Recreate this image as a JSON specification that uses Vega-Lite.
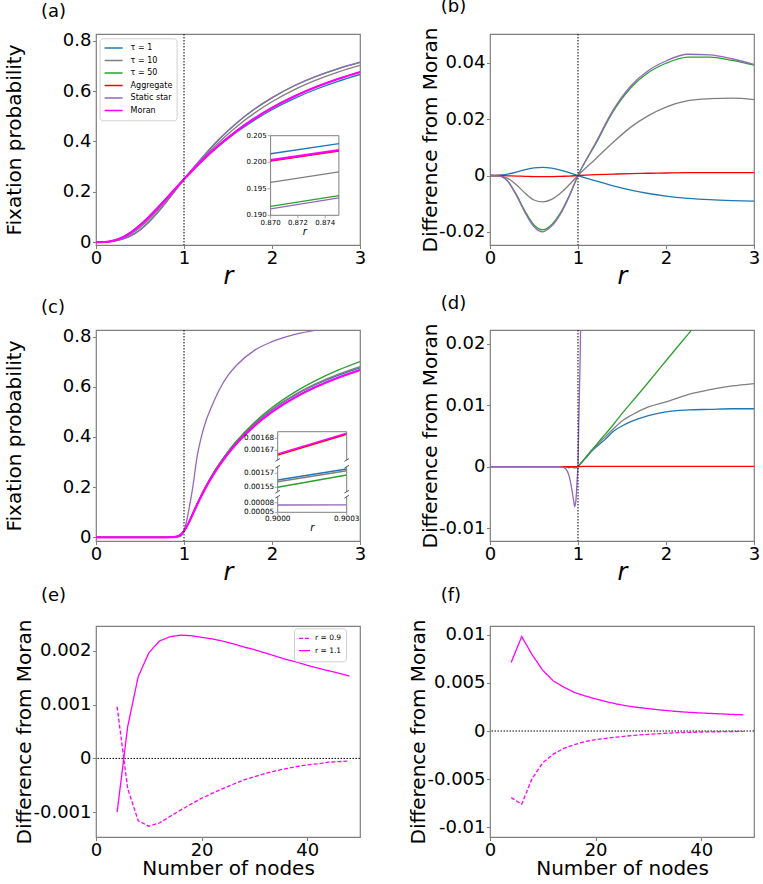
{
"$schema": "https://vega.github.io/schema/vega-lite/v6.json",
"background": "white",
"padding": {"left": 3, "top": -3, "right": 5, "bottom": 5},
"config": {
  "font": "DejaVu Sans",
  "view": {"stroke": "#7f7f7f", "strokeWidth": 1.2},
  "axis": {"grid": false, "domain": false, "domainColor": "#7f7f7f", "tickColor": "#7f7f7f", "tickSize": 3.5, "labelFontSize": 18, "labelColor": "black", "labelPadding": 1.5, "titleFontSize": 20, "titleFontWeight": "normal", "titleColor": "black", "labelFlush": false, "labelOverlap": false, "labelFont": "DejaVu Sans", "titleFont": "DejaVu Sans"},
  "title": {"fontSize": 18, "fontWeight": "normal", "font": "DejaVu Sans", "color": "black"},
  "legend": {"labelFont": "DejaVu Sans"},
  "tick": {"color": "#7f7f7f", "thickness": 1},
  "text": {"font": "DejaVu Sans", "color": "black"}
},
"datasets": {
  "a": [
    {"r":0,"t1":0,"t10":0,"t50":0,"agg":0,"star":0,"moran":0},
    {"r":0.1,"t1":0.001,"t10":0.0008,"t50":0.0008,"agg":0.0009,"star":0.0008,"moran":0.0009},
    {"r":0.2,"t1":0.0069,"t10":0.0054,"t50":0.0045,"agg":0.0063,"star":0.0044,"moran":0.0064},
    {"r":0.3,"t1":0.0203,"t10":0.0158,"t50":0.0123,"agg":0.0189,"star":0.012,"moran":0.0191},
    {"r":0.4,"t1":0.0415,"t10":0.0331,"t50":0.0266,"agg":0.0391,"star":0.0261,"moran":0.0394},
    {"r":0.5,"t1":0.0694,"t10":0.058,"t50":0.0491,"agg":0.0663,"star":0.0485,"moran":0.0667},
    {"r":0.6,"t1":0.1022,"t10":0.0899,"t50":0.08,"agg":0.0989,"star":0.0794,"moran":0.0993},
    {"r":0.7,"t1":0.138,"t10":0.1269,"t50":0.1179,"agg":0.135,"star":0.1174,"moran":0.1354},
    {"r":0.8,"t1":0.1753,"t10":0.1671,"t50":0.1601,"agg":0.1731,"star":0.1597,"moran":0.1734},
    {"r":0.9,"t1":0.213,"t10":0.2087,"t50":0.2048,"agg":0.2118,"star":0.2045,"moran":0.212},
    {"r":1,"t1":0.25,"t10":0.25,"t50":0.25,"agg":0.25,"star":0.25,"moran":0.25},
    {"r":1.2,"t1":0.32,"t10":0.3278,"t50":0.3331,"agg":0.3222,"star":0.3335,"moran":0.3219},
    {"r":1.4,"t1":0.3826,"t10":0.3981,"t50":0.4091,"agg":0.3868,"star":0.4096,"moran":0.3863},
    {"r":1.6,"t1":0.4373,"t10":0.4597,"t50":0.4737,"agg":0.4432,"star":0.4743,"moran":0.4425},
    {"r":1.8,"t1":0.4848,"t10":0.5125,"t50":0.5278,"agg":0.492,"star":0.5285,"moran":0.4912},
    {"r":2,"t1":0.526,"t10":0.5576,"t50":0.5732,"agg":0.5342,"star":0.574,"moran":0.5333},
    {"r":2.25,"t1":0.57,"t10":0.6047,"t50":0.6202,"agg":0.5791,"star":0.6212,"moran":0.5781},
    {"r":2.5,"t1":0.6072,"t10":0.6431,"t50":0.6579,"agg":0.6168,"star":0.6587,"moran":0.6158},
    {"r":2.75,"t1":0.6388,"t10":0.6752,"t50":0.6886,"agg":0.6487,"star":0.6892,"moran":0.6477},
    {"r":3,"t1":0.6659,"t10":0.702,"t50":0.7142,"agg":0.676,"star":0.7145,"moran":0.675}
  ],
  "ai": [
    {"r":0.87,"t1":0.2016,"t10":0.1962,"t50":0.1917,"agg":0.2002,"star":0.1912,"moran":0.2004},
    {"r":0.875,"t1":0.2035,"t10":0.1982,"t50":0.1937,"agg":0.2021,"star":0.1933,"moran":0.2023}
  ],
  "aiy": [{"v":0.19},{"v":0.195},{"v":0.2},{"v":0.205}],
  "aix": [{"v":0.87},{"v":0.872},{"v":0.874}],
  "b": [
    {"r":0,"t1":0,"t10":0,"t50":0,"agg":0,"star":0},
    {"r":0.1,"t1":0.0001,"t10":-0.0001,"t50":-0.0001,"agg":0,"star":-0.0001},
    {"r":0.2,"t1":0.0005,"t10":-0.001,"t50":-0.0019,"agg":-0.0001,"star":-0.002},
    {"r":0.3,"t1":0.0012,"t10":-0.0033,"t50":-0.0068,"agg":-0.0002,"star":-0.0071},
    {"r":0.4,"t1":0.0021,"t10":-0.0063,"t50":-0.0128,"agg":-0.0003,"star":-0.0133},
    {"r":0.5,"t1":0.0027,"t10":-0.0087,"t50":-0.0176,"agg":-0.0004,"star":-0.0182},
    {"r":0.6,"t1":0.0029,"t10":-0.0094,"t50":-0.0193,"agg":-0.0004,"star":-0.02},
    {"r":0.7,"t1":0.0026,"t10":-0.0085,"t50":-0.0175,"agg":-0.0004,"star":-0.018},
    {"r":0.8,"t1":0.0019,"t10":-0.0063,"t50":-0.0133,"agg":-0.0003,"star":-0.0137},
    {"r":0.9,"t1":0.001,"t10":-0.0033,"t50":-0.0072,"agg":-0.0002,"star":-0.0075},
    {"r":1,"t1":0,"t10":0,"t50":0,"agg":0,"star":0},
    {"r":1.2,"t1":-0.0019,"t10":0.0059,"t50":0.0112,"agg":0.0003,"star":0.0116},
    {"r":1.4,"t1":-0.0037,"t10":0.0118,"t50":0.0228,"agg":0.0005,"star":0.0233},
    {"r":1.6,"t1":-0.0052,"t10":0.0172,"t50":0.0312,"agg":0.0007,"star":0.0318},
    {"r":1.8,"t1":-0.0064,"t10":0.0213,"t50":0.0366,"agg":0.0008,"star":0.0373},
    {"r":2,"t1":-0.0073,"t10":0.0243,"t50":0.0399,"agg":0.0009,"star":0.0407},
    {"r":2.25,"t1":-0.0081,"t10":0.0266,"t50":0.0421,"agg":0.001,"star":0.0431},
    {"r":2.5,"t1":-0.0086,"t10":0.0273,"t50":0.0421,"agg":0.001,"star":0.0429},
    {"r":2.75,"t1":-0.0089,"t10":0.0275,"t50":0.0409,"agg":0.001,"star":0.0415},
    {"r":3,"t1":-0.0091,"t10":0.027,"t50":0.0392,"agg":0.001,"star":0.0395}
  ],
  "c": [
    {"r":0,"t1":0,"t10":0,"t50":0,"agg":0,"star":0,"moran":0},
    {"r":0.5,"t1":0,"t10":0,"t50":0,"agg":0,"star":0,"moran":0},
    {"r":0.8,"t1":0.00003,"t10":0.00003,"t50":0.00003,"agg":0.00003,"star":0,"moran":0.00003},
    {"r":0.85,"t1":0.00027,"t10":0.00027,"t50":0.00027,"agg":0.00027,"star":0.00001,"moran":0.00027},
    {"r":0.9,"t1":0.00156,"t10":0.00156,"t50":0.00155,"agg":0.00167,"star":0.00007,"moran":0.00167},
    {"r":0.925,"t1":0.00375,"t10":0.00375,"t50":0.00365,"agg":0.00375,"star":0.00045,"moran":0.00375},
    {"r":0.95,"t1":0.00776,"t10":0.00776,"t50":0.00756,"agg":0.00776,"star":0.00226,"moran":0.00776},
    {"r":0.962,"t1":0.01065,"t10":0.01065,"t50":0.01045,"agg":0.01065,"star":0.00415,"moran":0.01065},
    {"r":0.975,"t1":0.01463,"t10":0.01463,"t50":0.01443,"agg":0.01463,"star":0.00893,"moran":0.01463},
    {"r":0.99,"t1":0.0204,"t10":0.0204,"t50":0.0203,"agg":0.0204,"star":0.0182,"moran":0.0204},
    {"r":1,"t1":0.025,"t10":0.025,"t50":0.025,"agg":0.025,"star":0.0255,"moran":0.025},
    {"r":1.01,"t1":0.0303,"t10":0.0303,"t50":0.0304,"agg":0.0302,"star":0.0382,"moran":0.0302},
    {"r":1.025,"t1":0.0393,"t10":0.0393,"t50":0.0393,"agg":0.0389,"star":0.0569,"moran":0.0389},
    {"r":1.05,"t1":0.0563,"t10":0.0563,"t50":0.0564,"agg":0.0555,"star":0.1005,"moran":0.0555},
    {"r":1.1,"t1":0.0946,"t10":0.0947,"t50":0.0947,"agg":0.093,"star":0.2,"moran":0.093},
    {"r":1.15,"t1":0.1333,"t10":0.1334,"t50":0.1335,"agg":0.1309,"star":0.3249,"moran":0.1309},
    {"r":1.2,"t1":0.1699,"t10":0.1701,"t50":0.1702,"agg":0.1668,"star":0.4048,"moran":0.1668},
    {"r":1.25,"t1":0.2037,"t10":0.204,"t50":0.2043,"agg":0.2,"star":0.465,"moran":0.2},
    {"r":1.3,"t1":0.2351,"t10":0.2355,"t50":0.2359,"agg":0.2308,"star":0.5098,"moran":0.2308},
    {"r":1.4,"t1":0.2914,"t10":0.2918,"t50":0.2925,"agg":0.2857,"star":0.5877,"moran":0.2857},
    {"r":1.5,"t1":0.3399,"t10":0.3407,"t50":0.3419,"agg":0.3333,"star":0.6453,"moran":0.3333},
    {"r":1.6,"t1":0.3823,"t10":0.3833,"t50":0.3853,"agg":0.375,"star":0.687,"moran":0.375},
    {"r":1.8,"t1":0.4527,"t10":0.4541,"t50":0.4581,"agg":0.4444,"star":0.7454,"moran":0.4444},
    {"r":2,"t1":0.5089,"t10":0.5105,"t50":0.5172,"agg":0.5,"star":0.78,"moran":0.5},
    {"r":2.25,"t1":0.5648,"t10":0.5673,"t50":0.5771,"agg":0.5556,"star":0.8086,"moran":0.5556},
    {"r":2.5,"t1":0.6093,"t10":0.6125,"t50":0.6258,"agg":0.6,"star":0.826,"moran":0.6},
    {"r":2.75,"t1":0.6458,"t10":0.6495,"t50":0.6665,"agg":0.6364,"star":0.8424,"moran":0.6364},
    {"r":3,"t1":0.6761,"t10":0.6802,"t50":0.7011,"agg":0.6667,"star":0.8547,"moran":0.6667}
  ],
  "ct": [{"r":0.9,"agg":0.0016661,"moran":0.0016671},{"r":0.9003,"agg":0.0016834,"moran":0.0016842}],
  "cm": [{"r":0.9,"t1":0.0015604,"t10":0.001558,"t50":0.00155},{"r":0.9003,"t1":0.0015761,"t10":0.0015737,"t50":0.0015676}],
  "cb": [{"r":0.9,"star":0.0000728},{"r":0.9003,"star":0.0000733}],
  "cty": [{"v":0.00167},{"v":0.00168}],
  "cmy": [{"v":0.00155},{"v":0.00157}],
  "cby": [{"v":0.00005},{"v":0.00008}],
  "cbx": [{"v":0.9},{"v":0.9003}],
  "d": [
    {"r":0,"t1":0,"t10":0,"t50":0,"agg":0,"star":0},
    {"r":0.5,"t1":0,"t10":0,"t50":0,"agg":0,"star":0},
    {"r":0.8,"t1":0,"t10":0,"t50":0,"agg":0,"star":-0.00003},
    {"r":0.85,"t1":0,"t10":0,"t50":0,"agg":0,"star":-0.00026},
    {"r":0.9,"t1":-0.0001,"t10":-0.0001,"t50":-0.0002,"agg":0,"star":-0.0016},
    {"r":0.925,"t1":0,"t10":0,"t50":-0.0001,"agg":0,"star":-0.0033},
    {"r":0.95,"t1":0,"t10":0,"t50":-0.0002,"agg":0,"star":-0.0055},
    {"r":0.962,"t1":0,"t10":0,"t50":-0.0002,"agg":0,"star":-0.0065},
    {"r":0.975,"t1":0,"t10":0,"t50":-0.0002,"agg":0,"star":-0.0057},
    {"r":0.99,"t1":0,"t10":0,"t50":-0.0001,"agg":0,"star":-0.0022},
    {"r":1,"t1":0,"t10":0,"t50":0,"agg":0,"star":0.0005},
    {"r":1.01,"t1":0.0001,"t10":0.0001,"t50":0.0002,"agg":0,"star":0.008},
    {"r":1.025,"t1":0.0004,"t10":0.0004,"t50":0.0004,"agg":0,"star":0.018},
    {"r":1.05,"t1":0.0008,"t10":0.0008,"t50":0.00085,"agg":0.00002,"star":0.045},
    {"r":1.1,"t1":0.0016,"t10":0.0017,"t50":0.0017,"agg":0.00002,"star":0.107},
    {"r":1.15,"t1":0.0024,"t10":0.0025,"t50":0.0026,"agg":0.00002,"star":0.194},
    {"r":1.2,"t1":0.0031,"t10":0.0033,"t50":0.0034,"agg":0.00002,"star":0.238},
    {"r":1.25,"t1":0.0037,"t10":0.004,"t50":0.0043,"agg":0.00002,"star":0.265},
    {"r":1.3,"t1":0.0043,"t10":0.0047,"t50":0.0051,"agg":0.00002,"star":0.279},
    {"r":1.4,"t1":0.0057,"t10":0.0061,"t50":0.0068,"agg":0.00003,"star":0.302},
    {"r":1.5,"t1":0.0066,"t10":0.0074,"t50":0.0086,"agg":0.00003,"star":0.312},
    {"r":1.6,"t1":0.0073,"t10":0.0083,"t50":0.0103,"agg":0.00003,"star":0.312},
    {"r":1.8,"t1":0.0083,"t10":0.0097,"t50":0.0137,"agg":0.00003,"star":0.301},
    {"r":2,"t1":0.0089,"t10":0.0105,"t50":0.0172,"agg":0.00003,"star":0.28},
    {"r":2.25,"t1":0.0092,"t10":0.0117,"t50":0.0215,"agg":0.00003,"star":0.253},
    {"r":2.5,"t1":0.0093,"t10":0.0125,"t50":0.0258,"agg":0.00003,"star":0.226},
    {"r":2.75,"t1":0.0094,"t10":0.0131,"t50":0.0301,"agg":0.00003,"star":0.206},
    {"r":3,"t1":0.0094,"t10":0.0135,"t50":0.0344,"agg":0.00003,"star":0.188}
  ],
  "e": [
    {"n":4,"lo":0.00096,"hi":-0.001},{"n":6,"lo":-0.00056,"hi":0.00059},{"n":8,"lo":-0.00116,"hi":0.00152},
    {"n":10,"lo":-0.00126,"hi":0.00196},{"n":12,"lo":-0.0012,"hi":0.00218},{"n":14,"lo":-0.00108,"hi":0.00226},
    {"n":16,"lo":-0.00096,"hi":0.00229},{"n":18,"lo":-0.00085,"hi":0.00228},{"n":20,"lo":-0.00074,"hi":0.00225},
    {"n":22,"lo":-0.00065,"hi":0.00222},{"n":24,"lo":-0.00056,"hi":0.00218},{"n":26,"lo":-0.00048,"hi":0.00213},
    {"n":28,"lo":-0.0004,"hi":0.00207},{"n":30,"lo":-0.00034,"hi":0.00202},{"n":32,"lo":-0.00028,"hi":0.00196},
    {"n":34,"lo":-0.00023,"hi":0.0019},{"n":36,"lo":-0.00019,"hi":0.00184},{"n":38,"lo":-0.00015,"hi":0.00179},
    {"n":40,"lo":-0.00012,"hi":0.00173},{"n":42,"lo":-0.0001,"hi":0.00168},{"n":44,"lo":-0.00007,"hi":0.00163},
    {"n":46,"lo":-0.00006,"hi":0.00158},{"n":48,"lo":-0.00005,"hi":0.00153}
  ],
  "f": [
    {"n":4,"lo":-0.0069,"hi":0.0071},{"n":6,"lo":-0.0076,"hi":0.0098},{"n":8,"lo":-0.0049,"hi":0.0079},
    {"n":10,"lo":-0.0033,"hi":0.0063},{"n":12,"lo":-0.0024,"hi":0.0052},{"n":14,"lo":-0.0018,"hi":0.00455},
    {"n":16,"lo":-0.0014,"hi":0.004},{"n":18,"lo":-0.0011,"hi":0.00365},{"n":20,"lo":-0.0009,"hi":0.00333},
    {"n":22,"lo":-0.00076,"hi":0.00305},{"n":24,"lo":-0.00063,"hi":0.0028},{"n":26,"lo":-0.00052,"hi":0.0026},
    {"n":28,"lo":-0.00042,"hi":0.00245},{"n":30,"lo":-0.00035,"hi":0.00232},{"n":32,"lo":-0.00028,"hi":0.0022},
    {"n":34,"lo":-0.00022,"hi":0.0021},{"n":36,"lo":-0.00017,"hi":0.002},{"n":38,"lo":-0.00014,"hi":0.00193},
    {"n":40,"lo":-0.0001,"hi":0.00187},{"n":42,"lo":-0.00008,"hi":0.00182},{"n":44,"lo":-0.00007,"hi":0.00177},
    {"n":46,"lo":-0.00005,"hi":0.00172},{"n":48,"lo":-0.00004,"hi":0.00168}
  ]
},
"columns": 2,
"spacing": {"row": 85, "column": 130},
"bounds": "flush",
"resolve": {"scale": {"color": "independent", "strokeDash": "independent"}},
"concat": [
  {
    "title": {"text": "(a)", "anchor": "start", "frame": "group", "dx": -55, "dy": 3, "offset": 0, "baseline": "alphabetic"},
    "width": 264, "height": 211,
    "layer": [
      {"data": {"name": "a"}, "transform": [{"fold": ["t1","t10","t50","agg","star","moran"], "as": ["s","p"]}],
       "layer": [
         {"mark": {"type": "line", "interpolate": "monotone", "clip": true},
          "encoding": {
            "x": {"field": "r", "type": "quantitative", "scale": {"domain": [0,3], "nice": false, "zero": false},
                  "axis": {"values": [0,1,2,3], "format": "d", "title": "r", "titleFontStyle": "italic", "titleFontSize": 24, "titleBaseline": "alphabetic", "titleY": 38, "labelPadding": 0.5}},
            "y": {"field": "p", "type": "quantitative", "scale": {"domain": [-0.011, 0.8266], "nice": false, "zero": false},
                  "axis": {"values": [0,0.2,0.4,0.6,0.8], "labelExpr": "datum.value == 0 ? '0' : (datum.value < 0 ? '-' : '') + format(abs(datum.value), '~g')", "title": "Fixation probability", "titleX": -72}},
            "color": {"field": "s", "type": "nominal",
                      "scale": {"domain": ["t1","t10","t50","agg","star","moran"], "range": ["#1f77b4","#7f7f7f","#2ca02c","#ff0000","#9467bd","#ff00ff"]},
                      "legend": {"title": null, "orient": "none", "legendX": 3.6, "legendY": 4.3,
                                 "labelExpr": "datum.label == 't1' ? 'τ = 1' : datum.label == 't10' ? 'τ = 10' : datum.label == 't50' ? 'τ = 50' : datum.label == 'agg' ? 'Aggregate' : datum.label == 'star' ? 'Static star' : 'Moran'",
                                 "labelFontSize": 8, "labelColor": "black", "symbolType": "stroke", "symbolSize": 324, "symbolStrokeWidth": 1.4,
                                 "clipHeight": 11.5, "labelOffset": 7, "rowPadding": 0.5, "padding": 4, "strokeColor": "#d0d0d0", "fillColor": "white", "cornerRadius": 3}},
            "strokeWidth": {"condition": {"test": "datum.s == 'moran'", "value": 2.2}, "value": 1.3}
          }},
         {"data": {"values": [{}]}, "mark": {"type": "rule", "color": "black", "strokeDash": [1.5, 1.5], "strokeWidth": 1}, "encoding": {"x": {"datum": 1}}}
       ]},
      {"data": {"name": "ai"}, "transform": [{"fold": ["t1","t10","t50","agg","star","moran"], "as": ["s","p"]}],
       "layer": [
         {"data": {"values": [{}]}, "mark": {"type": "rect", "fill": "white", "stroke": "#7f7f7f", "strokeWidth": 1},
          "encoding": {"x": {"datum": 0.87, "axis": null}, "x2": {"datum": 0.875}, "y": {"datum": 0.19, "axis": null}, "y2": {"datum": 0.205}}},
         {"mark": {"type": "line"},
          "encoding": {
            "x": {"field": "r", "type": "quantitative", "scale": {"domain": [0.8572182, 0.8765446], "nice": false, "zero": false, "padding": 0}, "axis": null},
            "y": {"field": "p", "type": "quantitative", "scale": {"domain": [0.184403, 0.224164], "nice": false, "zero": false, "padding": 0}, "axis": null},
            "color": {"field": "s", "type": "nominal",
                      "scale": {"domain": ["t1","t10","t50","agg","star","moran"], "range": ["#1f77b4","#7f7f7f","#2ca02c","#ff0000","#9467bd","#ff00ff"]}, "legend": null},
            "strokeWidth": {"condition": {"test": "datum.s == 'moran'", "value": 2.2}, "value": 1.3}
          }},
         {"data": {"name": "aiy"}, "mark": {"type": "tick", "orient": "horizontal", "size": 3, "xOffset": -1.5},
          "encoding": {"x": {"datum": 0.87, "axis": null}, "y": {"field": "v", "type": "quantitative", "axis": null}}},
         {"data": {"name": "aiy"}, "mark": {"type": "text", "align": "right", "baseline": "middle", "dx": -4, "fontSize": 7},
          "encoding": {"x": {"datum": 0.87, "axis": null}, "y": {"field": "v", "type": "quantitative", "axis": null}, "text": {"field": "v", "type": "quantitative", "format": ".3f"}}},
         {"data": {"name": "aix"}, "mark": {"type": "tick", "orient": "vertical", "size": 3, "yOffset": 1.5},
          "encoding": {"x": {"field": "v", "type": "quantitative", "axis": null}, "y": {"datum": 0.19, "axis": null}}},
         {"data": {"name": "aix"}, "mark": {"type": "text", "align": "center", "baseline": "top", "dy": 3.5, "fontSize": 7},
          "encoding": {"x": {"field": "v", "type": "quantitative", "axis": null}, "y": {"datum": 0.19, "axis": null}, "text": {"field": "v", "type": "quantitative", "format": ".3f"}}},
         {"data": {"values": [{}]}, "mark": {"type": "text", "text": "r", "fontStyle": "italic", "fontSize": 10, "align": "center", "baseline": "alphabetic", "dy": 20},
          "encoding": {"x": {"datum": 0.8725, "axis": null}, "y": {"datum": 0.19, "axis": null}}}
       ]}
    ],
    "resolve": {"scale": {"x": "independent", "y": "independent", "color": "independent"}, "axis": {"x": "independent", "y": "independent"}}
  },
  {
    "title": {"text": "(b)", "anchor": "start", "frame": "group", "dx": -49.3, "dy": 3, "offset": 0, "baseline": "alphabetic"},
    "width": 264, "height": 211,
    "data": {"name": "b"},
    "transform": [{"fold": ["t1","t10","t50","agg","star"], "as": ["s","d"]}],
    "layer": [
      {"mark": {"type": "line", "interpolate": "monotone", "clip": true, "strokeWidth": 1.3},
       "encoding": {
         "x": {"field": "r", "type": "quantitative", "scale": {"domain": [0,3], "nice": false, "zero": false},
               "axis": {"values": [0,1,2,3], "format": "d", "title": "r", "titleFontStyle": "italic", "titleFontSize": 24, "titleBaseline": "alphabetic", "titleY": 38, "labelPadding": 0.5}},
         "y": {"field": "d", "type": "quantitative", "scale": {"domain": [-0.0247, 0.0503], "nice": false, "zero": false},
               "axis": {"values": [-0.02,0,0.02,0.04], "labelExpr": "datum.value == 0 ? '0' : (datum.value < 0 ? '-' : '') + format(abs(datum.value), '~g')", "title": "Difference from Moran", "titleX": -49.5}},
         "color": {"field": "s", "type": "nominal",
                   "scale": {"domain": ["t1","t10","t50","agg","star","moran"], "range": ["#1f77b4","#7f7f7f","#2ca02c","#ff0000","#9467bd","#ff00ff"]}, "legend": null}
       }},
      {"data": {"values": [{}]}, "mark": {"type": "rule", "color": "black", "strokeDash": [1.5, 1.5], "strokeWidth": 1}, "encoding": {"x": {"datum": 1}}}
    ]
  },
  {
    "title": {"text": "(c)", "anchor": "start", "frame": "group", "dx": -55, "dy": 3.1, "offset": 0, "baseline": "alphabetic"},
    "width": 264, "height": 211,
    "layer": [
      {"data": {"name": "c"}, "transform": [{"fold": ["t1","t10","t50","agg","star","moran"], "as": ["s","p"]}],
       "layer": [
         {"mark": {"type": "line", "interpolate": "monotone", "clip": true},
          "encoding": {
            "x": {"field": "r", "type": "quantitative", "scale": {"domain": [0,3], "nice": false, "zero": false},
                  "axis": {"values": [0,1,2,3], "format": "d", "title": "r", "titleFontStyle": "italic", "titleFontSize": 24, "titleBaseline": "alphabetic", "titleY": 38, "labelPadding": 0.5}},
            "y": {"field": "p", "type": "quantitative", "scale": {"domain": [-0.0148, 0.8267], "nice": false, "zero": false},
                  "axis": {"values": [0,0.2,0.4,0.6,0.8], "labelExpr": "datum.value == 0 ? '0' : (datum.value < 0 ? '-' : '') + format(abs(datum.value), '~g')", "title": "Fixation probability", "titleX": -72}},
            "color": {"field": "s", "type": "nominal",
                      "scale": {"domain": ["t1","t10","t50","agg","star","moran"], "range": ["#1f77b4","#7f7f7f","#2ca02c","#ff0000","#9467bd","#ff00ff"]}, "legend": null},
            "strokeWidth": {"condition": {"test": "datum.s == 'moran'", "value": 2.2}, "value": 1.3}
          }},
         {"data": {"values": [{}]}, "mark": {"type": "rule", "color": "black", "strokeDash": [1.5, 1.5], "strokeWidth": 1}, "encoding": {"x": {"datum": 1}}}
       ]},
      {"data": {"name": "ct"}, "transform": [{"fold": ["agg","moran"], "as": ["s","p"]}],
       "layer": [
         {"mark": {"type": "line", "strokeWidth": 1.4},
          "encoding": {
            "x": {"field": "r", "type": "quantitative", "scale": {"domain": [0.89921, 0.9003578], "nice": false, "zero": false, "padding": 0}, "axis": null},
            "y": {"field": "p", "type": "quantitative", "scale": {"domain": [0.001662, 0.0016855], "range": [130, 101.7], "nice": false, "zero": false, "padding": 0}, "axis": null},
            "color": {"field": "s", "type": "nominal",
                      "scale": {"domain": ["t1","t10","t50","agg","star","moran"], "range": ["#1f77b4","#7f7f7f","#2ca02c","#ff0000","#9467bd","#ff00ff"]}, "legend": null}
          }},
         {"data": {"values": [{}]}, "mark": {"type": "rule", "color": "#7f7f7f", "strokeWidth": 1},
          "encoding": {"x": {"datum": 0.9, "axis": null}, "y": {"datum": 0.001662, "axis": null}, "y2": {"datum": 0.0016855}}},
         {"data": {"values": [{}]}, "mark": {"type": "rule", "color": "#7f7f7f", "strokeWidth": 1},
          "encoding": {"x": {"datum": 0.9003, "axis": null}, "y": {"datum": 0.001662, "axis": null}, "y2": {"datum": 0.0016855}}},
         {"data": {"values": [{}]}, "mark": {"type": "rule", "color": "#7f7f7f", "strokeWidth": 1},
          "encoding": {"x": {"datum": 0.9, "axis": null}, "x2": {"datum": 0.9003}, "y": {"datum": 0.0016855, "axis": null}}},
         {"data": {"name": "cbx"}, "mark": {"type": "point", "shape": "M-1,0.6L1,-0.6", "size": 20, "filled": false, "stroke": "#555555", "strokeWidth": 1, "opacity": 1},
          "encoding": {"x": {"field": "v", "type": "quantitative", "axis": null}, "y": {"datum": 0.001662, "axis": null}}},
         {"data": {"name": "cty"}, "mark": {"type": "tick", "orient": "horizontal", "size": 3, "xOffset": -1.5},
          "encoding": {"x": {"datum": 0.9, "axis": null}, "y": {"field": "v", "type": "quantitative", "axis": null}}},
         {"data": {"name": "cty"}, "mark": {"type": "text", "align": "right", "baseline": "middle", "dx": -3.5, "fontSize": 7.3},
          "encoding": {"x": {"datum": 0.9, "axis": null}, "y": {"field": "v", "type": "quantitative", "axis": null}, "text": {"field": "v", "type": "quantitative", "format": ".5f"}}}
       ]},
      {"data": {"name": "cm"}, "transform": [{"fold": ["t1","t10","t50"], "as": ["s","p"]}],
       "layer": [
         {"mark": {"type": "line", "strokeWidth": 1.4},
          "encoding": {
            "x": {"field": "r", "type": "quantitative", "scale": {"domain": [0.89921, 0.9003578], "nice": false, "zero": false, "padding": 0}, "axis": null},
            "y": {"field": "p", "type": "quantitative", "scale": {"domain": [0.0015437, 0.0015794], "range": [161.7, 136.7], "nice": false, "zero": false, "padding": 0}, "axis": null},
            "color": {"field": "s", "type": "nominal",
                      "scale": {"domain": ["t1","t10","t50","agg","star","moran"], "range": ["#1f77b4","#7f7f7f","#2ca02c","#ff0000","#9467bd","#ff00ff"]}, "legend": null}
          }},
         {"data": {"values": [{}]}, "mark": {"type": "rule", "color": "#7f7f7f", "strokeWidth": 1},
          "encoding": {"x": {"datum": 0.9, "axis": null}, "y": {"datum": 0.0015437, "axis": null}, "y2": {"datum": 0.0015794}}},
         {"data": {"values": [{}]}, "mark": {"type": "rule", "color": "#7f7f7f", "strokeWidth": 1},
          "encoding": {"x": {"datum": 0.9003, "axis": null}, "y": {"datum": 0.0015437, "axis": null}, "y2": {"datum": 0.0015794}}},
         {"data": {"name": "cbx"}, "mark": {"type": "point", "shape": "M-1,0.6L1,-0.6", "size": 20, "filled": false, "stroke": "#555555", "strokeWidth": 1, "opacity": 1},
          "encoding": {"x": {"field": "v", "type": "quantitative", "axis": null}, "y": {"datum": 0.0015794, "axis": null}}},
         {"data": {"name": "cbx"}, "mark": {"type": "point", "shape": "M-1,0.6L1,-0.6", "size": 20, "filled": false, "stroke": "#555555", "strokeWidth": 1, "opacity": 1},
          "encoding": {"x": {"field": "v", "type": "quantitative", "axis": null}, "y": {"datum": 0.0015437, "axis": null}}},
         {"data": {"name": "cmy"}, "mark": {"type": "tick", "orient": "horizontal", "size": 3, "xOffset": -1.5},
          "encoding": {"x": {"datum": 0.9, "axis": null}, "y": {"field": "v", "type": "quantitative", "axis": null}}},
         {"data": {"name": "cmy"}, "mark": {"type": "text", "align": "right", "baseline": "middle", "dx": -3.5, "fontSize": 7.3},
          "encoding": {"x": {"datum": 0.9, "axis": null}, "y": {"field": "v", "type": "quantitative", "axis": null}, "text": {"field": "v", "type": "quantitative", "format": ".5f"}}}
       ]},
      {"data": {"name": "cb"}, "transform": [{"fold": ["star"], "as": ["s","p"]}],
       "layer": [
         {"mark": {"type": "line", "strokeWidth": 1.4},
          "encoding": {
            "x": {"field": "r", "type": "quantitative", "scale": {"domain": [0.89921, 0.9003578], "nice": false, "zero": false, "padding": 0}, "axis": null},
            "y": {"field": "p", "type": "quantitative", "scale": {"domain": [0.00005, 0.0000988], "range": [182.3, 166.7], "nice": false, "zero": false, "padding": 0}, "axis": null},
            "color": {"field": "s", "type": "nominal",
                      "scale": {"domain": ["t1","t10","t50","agg","star","moran"], "range": ["#1f77b4","#7f7f7f","#2ca02c","#ff0000","#9467bd","#ff00ff"]}, "legend": null}
          }},
         {"data": {"values": [{}]}, "mark": {"type": "rule", "color": "#7f7f7f", "strokeWidth": 1},
          "encoding": {"x": {"datum": 0.9, "axis": null}, "y": {"datum": 0.00005, "axis": null}, "y2": {"datum": 0.0000988}}},
         {"data": {"values": [{}]}, "mark": {"type": "rule", "color": "#7f7f7f", "strokeWidth": 1},
          "encoding": {"x": {"datum": 0.9003, "axis": null}, "y": {"datum": 0.00005, "axis": null}, "y2": {"datum": 0.0000988}}},
         {"data": {"values": [{}]}, "mark": {"type": "rule", "color": "#7f7f7f", "strokeWidth": 1},
          "encoding": {"x": {"datum": 0.9, "axis": null}, "x2": {"datum": 0.9003}, "y": {"datum": 0.00005, "axis": null}}},
         {"data": {"name": "cbx"}, "mark": {"type": "point", "shape": "M-1,0.6L1,-0.6", "size": 20, "filled": false, "stroke": "#555555", "strokeWidth": 1, "opacity": 1},
          "encoding": {"x": {"field": "v", "type": "quantitative", "axis": null}, "y": {"datum": 0.0000988, "axis": null}}},
         {"data": {"name": "cby"}, "mark": {"type": "tick", "orient": "horizontal", "size": 3, "xOffset": -1.5},
          "encoding": {"x": {"datum": 0.9, "axis": null}, "y": {"field": "v", "type": "quantitative", "axis": null}}},
         {"data": {"name": "cby"}, "mark": {"type": "text", "align": "right", "baseline": "middle", "dx": -3.5, "fontSize": 7.3},
          "encoding": {"x": {"datum": 0.9, "axis": null}, "y": {"field": "v", "type": "quantitative", "axis": null}, "text": {"field": "v", "type": "quantitative", "format": ".5f"}}},
         {"data": {"name": "cbx"}, "mark": {"type": "tick", "orient": "vertical", "size": 3, "yOffset": 1.5},
          "encoding": {"x": {"field": "v", "type": "quantitative", "axis": null}, "y": {"datum": 0.00005, "axis": null}}},
         {"data": {"name": "cbx"}, "mark": {"type": "text", "align": "center", "baseline": "top", "dy": 3, "fontSize": 7.3},
          "encoding": {"x": {"field": "v", "type": "quantitative", "axis": null}, "y": {"datum": 0.00005, "axis": null}, "text": {"field": "v", "type": "quantitative", "format": ".4f"}}},
         {"data": {"values": [{}]}, "mark": {"type": "text", "text": "r", "fontStyle": "italic", "fontSize": 10, "align": "center", "baseline": "alphabetic", "dy": 19},
          "encoding": {"x": {"datum": 0.90015, "axis": null}, "y": {"datum": 0.00005, "axis": null}}}
       ]}
    ],
    "resolve": {"scale": {"x": "independent", "y": "independent", "color": "independent"}, "axis": {"x": "independent", "y": "independent"}}
  },
  {
    "title": {"text": "(d)", "anchor": "start", "frame": "group", "dx": -49.3, "dy": 3.6, "offset": 0, "baseline": "alphabetic"},
    "width": 264, "height": 211,
    "data": {"name": "d"},
    "transform": [{"fold": ["t1","t10","t50","agg","star"], "as": ["s","d"]}],
    "layer": [
      {"mark": {"type": "line", "interpolate": "monotone", "clip": true, "strokeWidth": 1.3},
       "encoding": {
         "x": {"field": "r", "type": "quantitative", "scale": {"domain": [0,3], "nice": false, "zero": false},
               "axis": {"values": [0,1,2,3], "format": "d", "title": "r", "titleFontStyle": "italic", "titleFontSize": 24, "titleBaseline": "alphabetic", "titleY": 38, "labelPadding": 0.5}},
         "y": {"field": "d", "type": "quantitative", "scale": {"domain": [-0.0121, 0.0222], "nice": false, "zero": false},
               "axis": {"values": [-0.01,0,0.01,0.02], "labelExpr": "datum.value == 0 ? '0' : (datum.value < 0 ? '-' : '') + format(abs(datum.value), '~g')", "title": "Difference from Moran", "titleX": -49.5}},
         "color": {"field": "s", "type": "nominal",
                   "scale": {"domain": ["t1","t10","t50","agg","star","moran"], "range": ["#1f77b4","#7f7f7f","#2ca02c","#ff0000","#9467bd","#ff00ff"]}, "legend": null}
       }},
      {"data": {"values": [{}]}, "mark": {"type": "rule", "color": "black", "strokeDash": [1.5, 1.5], "strokeWidth": 1}, "encoding": {"x": {"datum": 1}}}
    ]
  },
  {
    "title": {"text": "(e)", "anchor": "start", "frame": "group", "dx": -55, "dy": 0.3, "offset": 0, "baseline": "alphabetic"},
    "width": 264, "height": 211,
    "data": {"name": "e"},
    "transform": [{"fold": ["lo","hi"], "as": ["k","d"]}],
    "layer": [
      {"data": {"values": [{}]}, "mark": {"type": "rule", "color": "black", "strokeDash": [1.5, 1.5], "strokeWidth": 1}, "encoding": {"y": {"datum": 0}}},
      {"mark": {"type": "line", "color": "#ff00ff", "strokeWidth": 1.3},
       "encoding": {
         "x": {"field": "n", "type": "quantitative", "scale": {"domain": [0,50], "nice": false, "zero": false},
               "axis": {"values": [0,20,40], "format": "d", "title": "Number of nodes", "titleBaseline": "alphabetic", "titleY": 37, "labelPadding": 0.5}},
         "y": {"field": "d", "type": "quantitative", "scale": {"domain": [-0.00146, 0.00246], "nice": false, "zero": false},
               "axis": {"values": [-0.001,0,0.001,0.002], "labelExpr": "datum.value == 0 ? '0' : (datum.value < 0 ? '-' : '') + format(abs(datum.value), '~g')", "title": "Difference from Moran", "titleX": -61.6}},
         "strokeDash": {"field": "k", "type": "nominal", "scale": {"domain": ["lo","hi"], "range": [[4,2],[1,0]]},
                        "legend": {"title": null, "orient": "none", "legendX": 198, "legendY": 2.3,
                                   "labelExpr": "datum.label == 'lo' ? 'r = 0.9' : 'r = 1.1'",
                                   "labelFontSize": 7.5, "labelColor": "black", "symbolType": "stroke", "symbolSize": 121, "symbolStrokeWidth": 1.2, "symbolStrokeColor": "#ff00ff",
                                   "clipHeight": 12, "labelOffset": 4, "rowPadding": 0.3, "padding": 4, "strokeColor": "#d0d0d0", "fillColor": "white", "cornerRadius": 3}}
       }}
    ]
  },
  {
    "title": {"text": "(f)", "anchor": "start", "frame": "group", "dx": -49.3, "dy": 0.3, "offset": 0, "baseline": "alphabetic"},
    "width": 264, "height": 211,
    "data": {"name": "f"},
    "transform": [{"fold": ["lo","hi"], "as": ["k","d"]}],
    "layer": [
      {"data": {"values": [{}]}, "mark": {"type": "rule", "color": "black", "strokeDash": [1.5, 1.5], "strokeWidth": 1}, "encoding": {"y": {"datum": 0}}},
      {"mark": {"type": "line", "color": "#ff00ff", "strokeWidth": 1.3},
       "encoding": {
         "x": {"field": "n", "type": "quantitative", "scale": {"domain": [0,50], "nice": false, "zero": false},
               "axis": {"values": [0,20,40], "format": "d", "title": "Number of nodes", "titleBaseline": "alphabetic", "titleY": 37, "labelPadding": 0.5}},
         "y": {"field": "d", "type": "quantitative", "scale": {"domain": [-0.011, 0.0109], "nice": false, "zero": false},
               "axis": {"values": [-0.01,-0.005,0,0.005,0.01], "labelExpr": "datum.value == 0 ? '0' : (datum.value < 0 ? '-' : '') + format(abs(datum.value), '~g')", "title": "Difference from Moran", "titleX": -61.2}},
         "strokeDash": {"field": "k", "type": "nominal", "scale": {"domain": ["lo","hi"], "range": [[4,2],[1,0]]}, "legend": null}
       }}
    ]
  }
]
}
